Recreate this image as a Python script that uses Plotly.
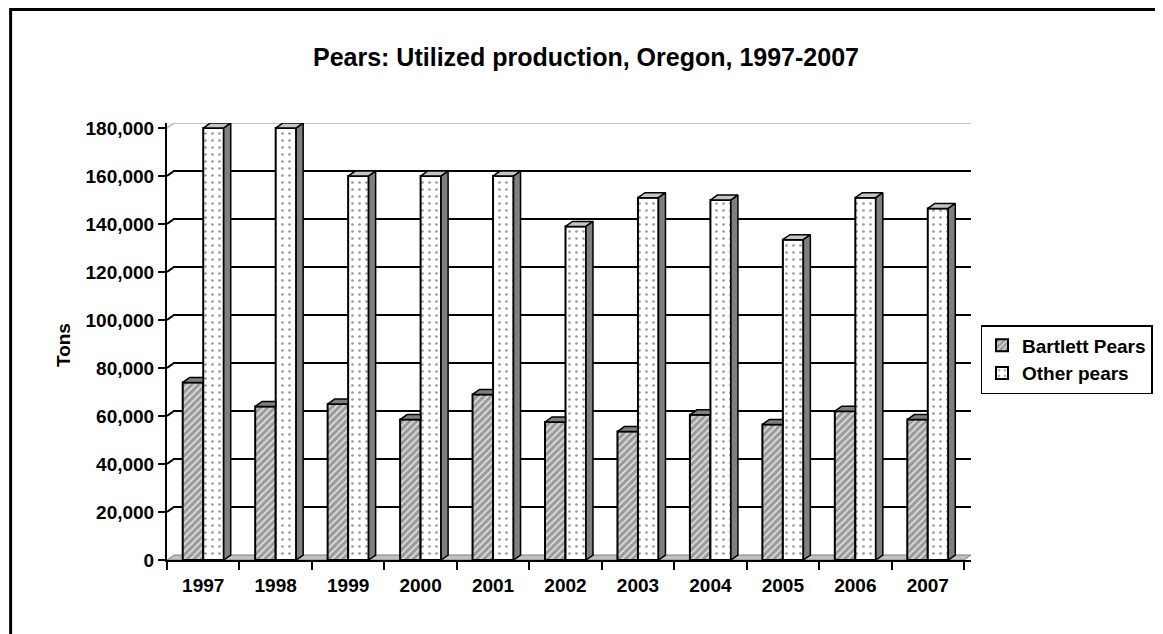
import plotly.graph_objects as go

# Oregon pear production, tons
years = ["1997", "1998", "1999", "2000", "2001", "2002", "2003", "2004", "2005", "2006", "2007"]
bartlett = [74000, 64000, 65000, 58500, 69000, 57500, 53500, 60500, 56500, 62000, 58500]
other = [180000, 180000, 160000, 160000, 160000, 139000, 151000, 150000, 133500, 151000, 146500]
y_ticks = [0, 20000, 40000, 60000, 80000, 100000, 120000, 140000, 160000, 180000]

FONT = "Liberation Sans, Arial, sans-serif"
BARGAP = 0.434
W = (1 - BARGAP) / 2          # width of one bar in category units
DX = 7 / 72.5                 # 3-D depth, horizontal (category units)
DY = 2083                     # 3-D depth, vertical (tons)
Y_TOP = 182100
N = len(years)
xs = list(range(N))

fig = go.Figure()

fig.add_trace(go.Bar(
    x=xs, y=bartlett, name="Bartlett Pears", legendgroup="a",
    marker=dict(color="#a0a0a0", line=dict(color="black", width=2),
                pattern=dict(shape="/", fgcolor="#dedede", bgcolor="#9a9a9a",
                             size=5, solidity=0.35, fillmode="replace")),
))
fig.add_trace(go.Bar(
    x=xs, y=other, name="Other pears", legendgroup="b",
    marker=dict(color="white", line=dict(color="black", width=2),
                pattern=dict(shape=".", fgcolor="#9a9a9a", bgcolor="white",
                             size=7, solidity=0.12, fillmode="replace")),
))


def faces(values, offset, full_top):
    """Top and side faces of the 3-D columns, in data coordinates."""
    top_x, top_y, side_x, side_y = [], [], [], []
    for i, v in zip(xs, values):
        x0 = i + offset
        x1 = x0 + W
        if full_top:
            top_x += [x0, x1, x1 + DX, x0 + DX, x0, None]
            side_x += [x1, x1 + DX, x1 + DX, x1, x1, None]
            side_y += [0, DY, v + DY, v, 0, None]
        else:
            # right part hidden behind the neighbouring column
            top_x += [x0, x1, x1, x0 + DX, x0, None]
        top_y += [v, v, v + DY, v + DY, v, None]
    return top_x, top_y, side_x, side_y


bx, by, _, _ = faces(bartlett, -W, False)
ox, oy, osx, osy = faces(other, 0, True)

for px, py, fill in [(bx, by, "#7f7f7f"), (ox, oy, "#c4c4c4"), (osx, osy, "#7f7f7f")]:
    fig.add_trace(go.Scatter(
        x=px, y=py, mode="lines", fill="toself", fillcolor=fill,
        line=dict(color="black", width=1.5), showlegend=False, hoverinfo="skip",
    ))

# back-wall gridlines and floor
shapes = []
x_left, x_right = -0.5, N - 0.5
for t in y_ticks[1:]:
    shapes.append(dict(
        type="path", xref="x", yref="y", layer="between",
        path=f"M {x_left},{t} L {x_left + DX},{t + DY} L {x_right + DX},{t + DY}",
        line=dict(color="#c0c0c0" if t == y_ticks[-1] else "black", width=2),
    ))
shapes.append(dict(
    type="path", xref="x", yref="y", layer="between",
    path=f"M {x_left},0 L {x_right},0 L {x_right + DX},{DY} L {x_left + DX},{DY} Z",
    fillcolor="#c0c0c0", line=dict(color="#808080", width=1),
))
# outer chart border (runs off the right and bottom edges)
shapes.append(dict(
    type="rect", xref="paper", yref="paper", x0=-0.1945, x1=1.6, y0=-0.6, y1=1.26,
    line=dict(color="black", width=3), fillcolor="rgba(0,0,0,0)",
))

fig.update_layout(
    width=1155, height=626,
    margin=dict(l=159, r=191, t=115, b=74),
    paper_bgcolor="white", plot_bgcolor="white",
    font=dict(family=FONT, size=19, color="black", weight="bold"),
    barmode="group", bargap=BARGAP, bargroupgap=0,
    showlegend=True,
    title=dict(text="Pears: Utilized production, Oregon, 1997-2007",
               x=0.5004, xref="container", xanchor="center",
               y=1 - 49 / 626, yref="container", yanchor="middle",
               font=dict(family=FONT, size=25, color="black", weight="bold")),
    legend=dict(x=(980 - 167) / 804.5, y=(560 - 325) / 437, xanchor="left", yanchor="top",
                bordercolor="black", borderwidth=1.5, bgcolor="white",
                font=dict(family=FONT, size=19, color="black", weight="bold"),
                tracegroupgap=0, traceorder="grouped"),
    shapes=shapes,
    annotations=[dict(text="Tons", textangle=-90, xref="paper", yref="paper",
                      x=(63 - 167) / 804.5, y=(560 - 345) / 437,
                      xanchor="center", yanchor="middle", showarrow=False,
                      font=dict(family=FONT, size=19, color="black", weight="bold"))],
)

fig.update_xaxes(
    range=[x_left, x_right + DX], tickmode="array", tickvals=xs, ticktext=years,
    ticks="", showgrid=False, zeroline=False,
    showline=True, linecolor="black", linewidth=2, ticklabelstandoff=7,
    minor=dict(tickmode="linear", tick0=-0.5, dtick=1, ticks="outside",
               ticklen=8, tickwidth=2, tickcolor="black", showgrid=False),
)
fig.update_yaxes(
    range=[0, Y_TOP], tickmode="array", tickvals=y_ticks, tickformat=",",
    ticks="outside", ticklen=7, tickwidth=2, tickcolor="black",
    showgrid=False, zeroline=False,
    showline=True, linecolor="black", linewidth=2,
)

fig.write_html("out.html")
